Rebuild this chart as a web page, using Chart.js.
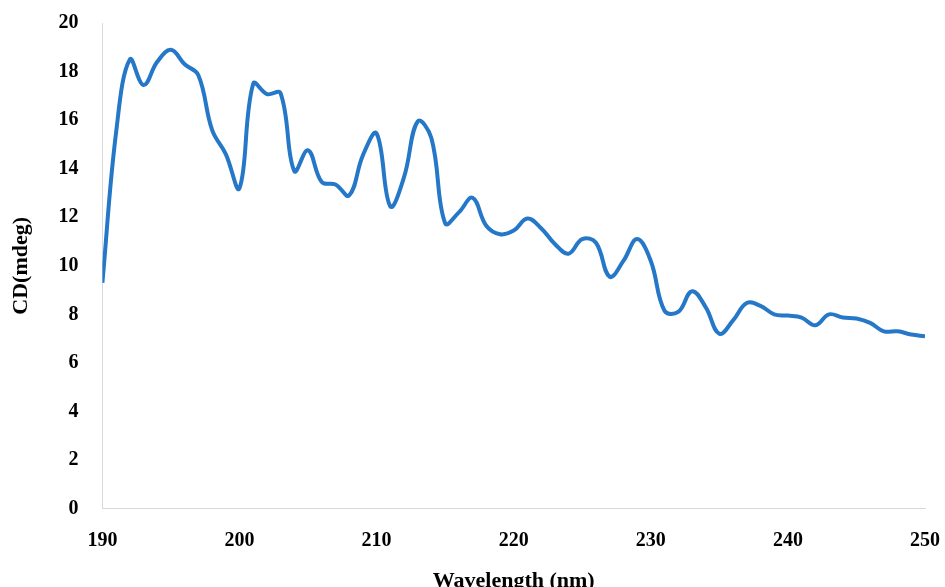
<!DOCTYPE html>
<html>
<head>
<meta charset="utf-8">
<script src="https://cdn.jsdelivr.net/npm/chart.js@4.4.1/dist/chart.umd.min.js"></script>
<style>
    html, body { margin: 0; padding: 0; background: #fff; }
    #wrap { width: 945px; height: 587px; }
</style>
</head>
<body>
<div id="wrap"><canvas id="cdChart" width="945" height="587"></canvas></div>
<script>
// Wavelength (nm), one reading per nm
const wavelength = [
    190, 191, 192, 193, 194, 195, 196, 197, 198, 199,
    200, 201, 202, 203, 204, 205, 206, 207, 208, 209,
    210, 211, 212, 213, 214, 215, 216, 217, 218, 219,
    220, 221, 222, 223, 224, 225, 226, 227, 228, 229,
    230, 231, 232, 233, 234, 235, 236, 237, 238, 239,
    240, 241, 242, 243, 244, 245, 246, 247, 248, 249,
    250
]
// CD signal (mdeg)
const cdValues = [
    9.3, 15.5, 18.5, 17.45, 18.4, 18.9, 18.3, 17.85, 15.6, 14.6,
    13.2, 17.5, 17.07, 17.1, 13.9, 14.75, 13.45, 13.35, 12.9, 14.55,
    15.45, 12.45, 13.65, 15.95, 15.25, 11.75, 12.2, 12.8, 11.65, 11.3,
    11.45, 11.95, 11.55, 10.9, 10.5, 11.1, 10.95, 9.55, 10.2, 11.1,
    10.2, 8.15, 8.1, 8.95, 8.3, 7.2, 7.75, 8.47, 8.35, 8.0,
    7.95, 7.87, 7.55, 8.0, 7.87, 7.83, 7.65, 7.3, 7.3, 7.17,
    7.1
]
const xTicks = [190, 200, 210, 220, 230, 240, 250]
const yTicks = [0, 2, 4, 6, 8, 10, 12, 14, 16, 18, 20]

const points = wavelength.map(function (w, i) {
    return {x: w, y: cdValues[i]}
})

const labelFont = {family: 'Liberation Serif', size: 20, weight: 'bold'}
const titleFont = {family: 'Liberation Serif', size: 22, weight: 'bold'}

const ctx = document.getElementById('cdChart')
// eslint-disable-next-line no-unused-vars
const cdChart = new Chart(ctx, {
    type: 'line',
    data: {
        datasets: [{
            data: points,
            borderColor: '#2577c8',
            borderWidth: 4,
            pointRadius: 0,
            tension: 0.4,
            fill: false
        }]
    },
    options: {
        responsive: false,
        animation: false,
        layout: {
            autoPadding: false,
            padding: {top: 23, right: 20, bottom: -8, left: 8}
        },
        plugins: {
            legend: {display: false},
            tooltip: {enabled: false}
        },
        scales: {
            x: {
                type: 'linear',
                min: 190,
                max: 250,
                afterBuildTicks: function (axis) {
                    axis.ticks = xTicks.map(function (v) { return {value: v} })
                },
                // let the last label hang over the right edge like the original
                afterFit: function (axis) {
                    axis.paddingLeft = 0
                    axis.paddingRight = 0
                },
                grid: {display: false, drawTicks: false},
                border: {display: true, color: '#d9d9d9', width: 1},
                ticks: {
                    color: '#000',
                    font: labelFont,
                    padding: 20,
                    maxRotation: 0
                },
                title: {
                    display: true,
                    text: 'Wavelength (nm)',
                    color: '#000',
                    font: titleFont,
                    padding: {top: -4, bottom: 0}
                }
            },
            y: {
                min: 0,
                max: 20,
                afterBuildTicks: function (axis) {
                    axis.ticks = yTicks.map(function (v) { return {value: v} })
                },
                afterFit: function (axis) {
                    axis.paddingTop = 0
                    axis.paddingBottom = 0
                },
                grid: {display: false, drawTicks: false},
                border: {display: true, color: '#d9d9d9', width: 1},
                ticks: {
                    color: '#000',
                    font: labelFont,
                    padding: 24
                },
                title: {
                    display: true,
                    text: 'CD(mdeg)',
                    color: '#000',
                    font: titleFont,
                    padding: {top: 0, bottom: 0}
                }
            }
        }
    }
})
</script>
</body>
</html>
